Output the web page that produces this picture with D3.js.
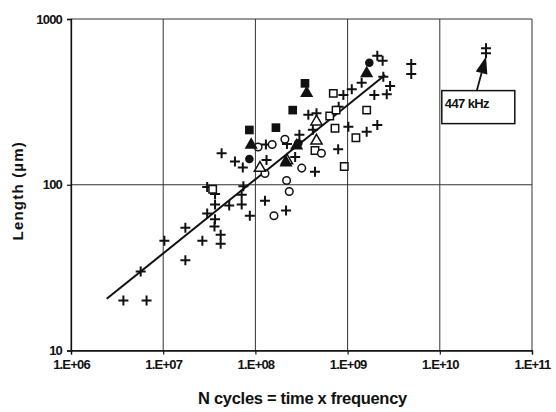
<!DOCTYPE html>
<html><head><meta charset="utf-8">
<script src="https://cdn.jsdelivr.net/npm/d3@7"></script>
<style>
body{margin:0;background:#fff;}
svg{display:block;font-family:"Liberation Sans",Arial,sans-serif;}
</style></head><body>
<svg id="c" width="556" height="412"></svg>
<script>
// ---- data (N cycles, length µm) ----
const xTicks = [1e6, 1e7, 1e8, 1e9, 1e10, 1e11];
const xTickLabels = ["1.E+06","1.E+07","1.E+08","1.E+09","1.E+10","1.E+11"];
const yTicks = [10, 100, 1000];
const yTickLabels = ["10","100","1000"];

const plusPts = [
 [3.7e6,20],[6.6e6,20],[5.7e6,30],[1.03e7,46],[1.74e7,35],[1.74e7,55],[2.66e7,46],
 [3.0e7,67],[3.0e7,97],[3.65e7,88],[3.65e7,76],[3.65e7,62],[3.6e7,56],[4.2e7,50],[4.2e7,44],
 [4.3e7,155],[5.2e7,75],[6.0e7,138],[7.3e7,127],[7.4e7,98],[7.1e7,87],[7.1e7,76],[8.7e7,65],
 [1.3e8,175],[1.32e8,141],[1.27e8,80],[2.15e8,70],[2.2e8,176],[2.7e8,147],[3.0e8,200],
 [3.75e8,264],[4.6e8,270],[4.2e8,215],[4.43e8,120],[7.9e8,164],[8.0e8,296],[9.0e8,348],
 [1.02e9,224],[1.11e9,377],[1.42e9,413],[1.61e9,209],[2.1e9,229],[1.95e9,348],[2.66e9,351],
 [2.89e9,394],[2.44e9,449],[2.1e9,600],[2.4e9,560],[4.9e9,536],[4.9e9,465],
 [3.17e10,665],[3.17e10,621]
];
const openSquarePts = [[3.44e7,94],[4.43e8,161],[6.4e8,260],[7.5e8,282],[7.0e8,356],[7.3e8,219],[9.2e8,129],[1.23e9,192],[1.61e9,282]];
const filledSquarePts = [[8.6e7,214],[1.67e8,221],[2.54e8,282],[3.45e8,409]];
const openCirclePts = [[1.07e8,169],[1.52e8,175],[1.27e8,117],[1.59e8,65],[2.09e8,188],[2.18e8,106],[2.33e8,91],[3.18e8,126],[5.2e8,155]];
const filledCirclePts = [[8.6e7,143],[2.92e8,178],[1.72e9,545]];
const openTrianglePts = [[1.12e8,126],[2.2e8,140],[4.6e8,240],[4.6e8,184]];
const filledTrianglePts = [[9.0e7,174],[2.15e8,136],[2.8e8,172],[3.6e8,357],[1.61e9,470]];

const trendN = [2.44e6, 2.55e9];
const trendL = [20.5, 459];

const annoLabel = "447 kHz";
const annoTarget = [3.17e10, 593];

// ---- layout ----
const svg = d3.select("#c");
const L = 71, R = 532, T = 19, B = 350.5;
const x = d3.scaleLog().domain([1e6, 1e11]).range([L, R]);
const y = d3.scaleLog().domain([10, 1000]).range([B, T]);

const g = svg.append("g");

// gridlines
g.selectAll(".vg").data(xTicks).join("line")
 .attr("x1", d => x(d)).attr("x2", d => x(d)).attr("y1", T).attr("y2", B)
 .attr("stroke", "#333").attr("stroke-width", 1);
g.selectAll(".hg").data(yTicks).join("line")
 .attr("x1", L).attr("x2", R).attr("y1", d => y(d)).attr("y2", d => y(d))
 .attr("stroke", "#333").attr("stroke-width", 1);

// axes
const xAxis = d3.axisBottom(x).tickValues(xTicks).tickFormat((d,i) => xTickLabels[i]).tickSize(4).tickPadding(5);
const yAxis = d3.axisLeft(y).tickValues(yTicks).tickFormat((d,i) => yTickLabels[i]).tickSize(4).tickPadding(5);
const gx = svg.append("g").attr("transform", `translate(0,${B})`).call(xAxis);
const gy = svg.append("g").attr("transform", `translate(${L},0)`).call(yAxis);
[gx, gy].forEach(a => {
  a.select(".domain").attr("stroke", "#111").attr("stroke-width", 1.3);
  a.selectAll(".tick line").attr("stroke", "#111").attr("stroke-width", 1.2);
  a.selectAll("text").attr("fill", "#111").attr("font-size", 13).attr("font-weight", "bold")
   .attr("font-family", "'Liberation Sans',Arial,sans-serif")
   .attr("letter-spacing", "-0.8px");
});

// trend line
svg.append("path")
 .datum(trendN.map((n,i) => [n, trendL[i]]))
 .attr("d", d3.line().x(d => x(d[0])).y(d => y(d[1])))
 .attr("fill", "none").attr("stroke", "#111").attr("stroke-width", 2);

// markers
const mk = svg.append("g");
const px = d => x(d[0]), py = d => y(d[1]);
mk.selectAll(".p").data(plusPts).join("path")
 .attr("d", d => `M${px(d)-5},${py(d)}h10M${px(d)},${py(d)-5}v10`)
 .attr("stroke", "#111").attr("stroke-width", 2).attr("fill", "none");
const sym = (type, size) => d3.symbol().type(type).size(size)();
mk.selectAll(".os").data(openSquarePts).join("path")
 .attr("transform", d => `translate(${px(d)},${py(d)})`).attr("d", sym(d3.symbolSquare, 55))
 .attr("fill", "#fff").attr("stroke", "#111").attr("stroke-width", 1.5);
mk.selectAll(".fs").data(filledSquarePts).join("path")
 .attr("transform", d => `translate(${px(d)},${py(d)})`).attr("d", sym(d3.symbolSquare, 75))
 .attr("fill", "#111");
mk.selectAll(".oc").data(openCirclePts).join("circle")
 .attr("cx", px).attr("cy", py).attr("r", 3.8)
 .attr("fill", "#fff").attr("stroke", "#111").attr("stroke-width", 1.5);
mk.selectAll(".fc").data(filledCirclePts).join("circle")
 .attr("cx", px).attr("cy", py).attr("r", 4.3).attr("fill", "#111");
mk.selectAll(".ot").data(openTrianglePts).join("path")
 .attr("transform", d => `translate(${px(d)},${py(d)})`).attr("d", sym(d3.symbolTriangle, 55))
 .attr("fill", "#fff").attr("stroke", "#111").attr("stroke-width", 1.5);
mk.selectAll(".ft").data(filledTrianglePts).join("path")
 .attr("transform", d => `translate(${px(d)},${py(d)})`).attr("d", sym(d3.symbolTriangle, 75))
 .attr("fill", "#111");

// annotation
const tx = x(annoTarget[0]), ty = y(annoTarget[1]);
const bx = x(1e10) + 2, by = ty + 34, bw = 73, bh = 33;
const sx = bx + 35, sy = by;
const ang = Math.atan2(ty - sy, tx - sx);
const hl = 17, hw = 6;
const baseX = tx - hl * Math.cos(ang), baseY = ty - hl * Math.sin(ang);
svg.append("line").attr("x1", sx).attr("y1", sy).attr("x2", baseX).attr("y2", baseY)
 .attr("stroke", "#111").attr("stroke-width", 1.8);
svg.append("path")
 .attr("d", `M${tx},${ty}L${baseX + hw*Math.sin(ang)},${baseY - hw*Math.cos(ang)}L${baseX - hw*Math.sin(ang)},${baseY + hw*Math.cos(ang)}Z`)
 .attr("fill", "#111");
svg.append("rect").attr("x", bx).attr("y", by).attr("width", bw).attr("height", bh)
 .attr("fill", "#fff").attr("stroke", "#111").attr("stroke-width", 1.5);
svg.append("text").attr("x", bx + 3).attr("y", by + 17).text(annoLabel)
 .attr("font-size", 13).attr("font-weight", "bold").attr("letter-spacing", "-0.6px").attr("fill", "#111")
 .attr("font-family", "'Liberation Sans',Arial,sans-serif");

// axis titles
svg.append("text").attr("x", (L + R) / 2 + 1).attr("y", 404).attr("text-anchor", "middle")
 .attr("font-size", 16.5).attr("font-weight", "bold").attr("fill", "#111").attr("letter-spacing", "-0.3px")
 .text("N cycles = time x frequency");
svg.append("text").attr("transform", `translate(23,${(T + B) / 2 + 6}) rotate(-90)`)
 .attr("text-anchor", "middle").attr("font-size", 15).attr("font-weight", "bold")
 .attr("letter-spacing", "1.2px").attr("fill", "#111")
 .text("Length (µm)");
</script>
</body></html>
